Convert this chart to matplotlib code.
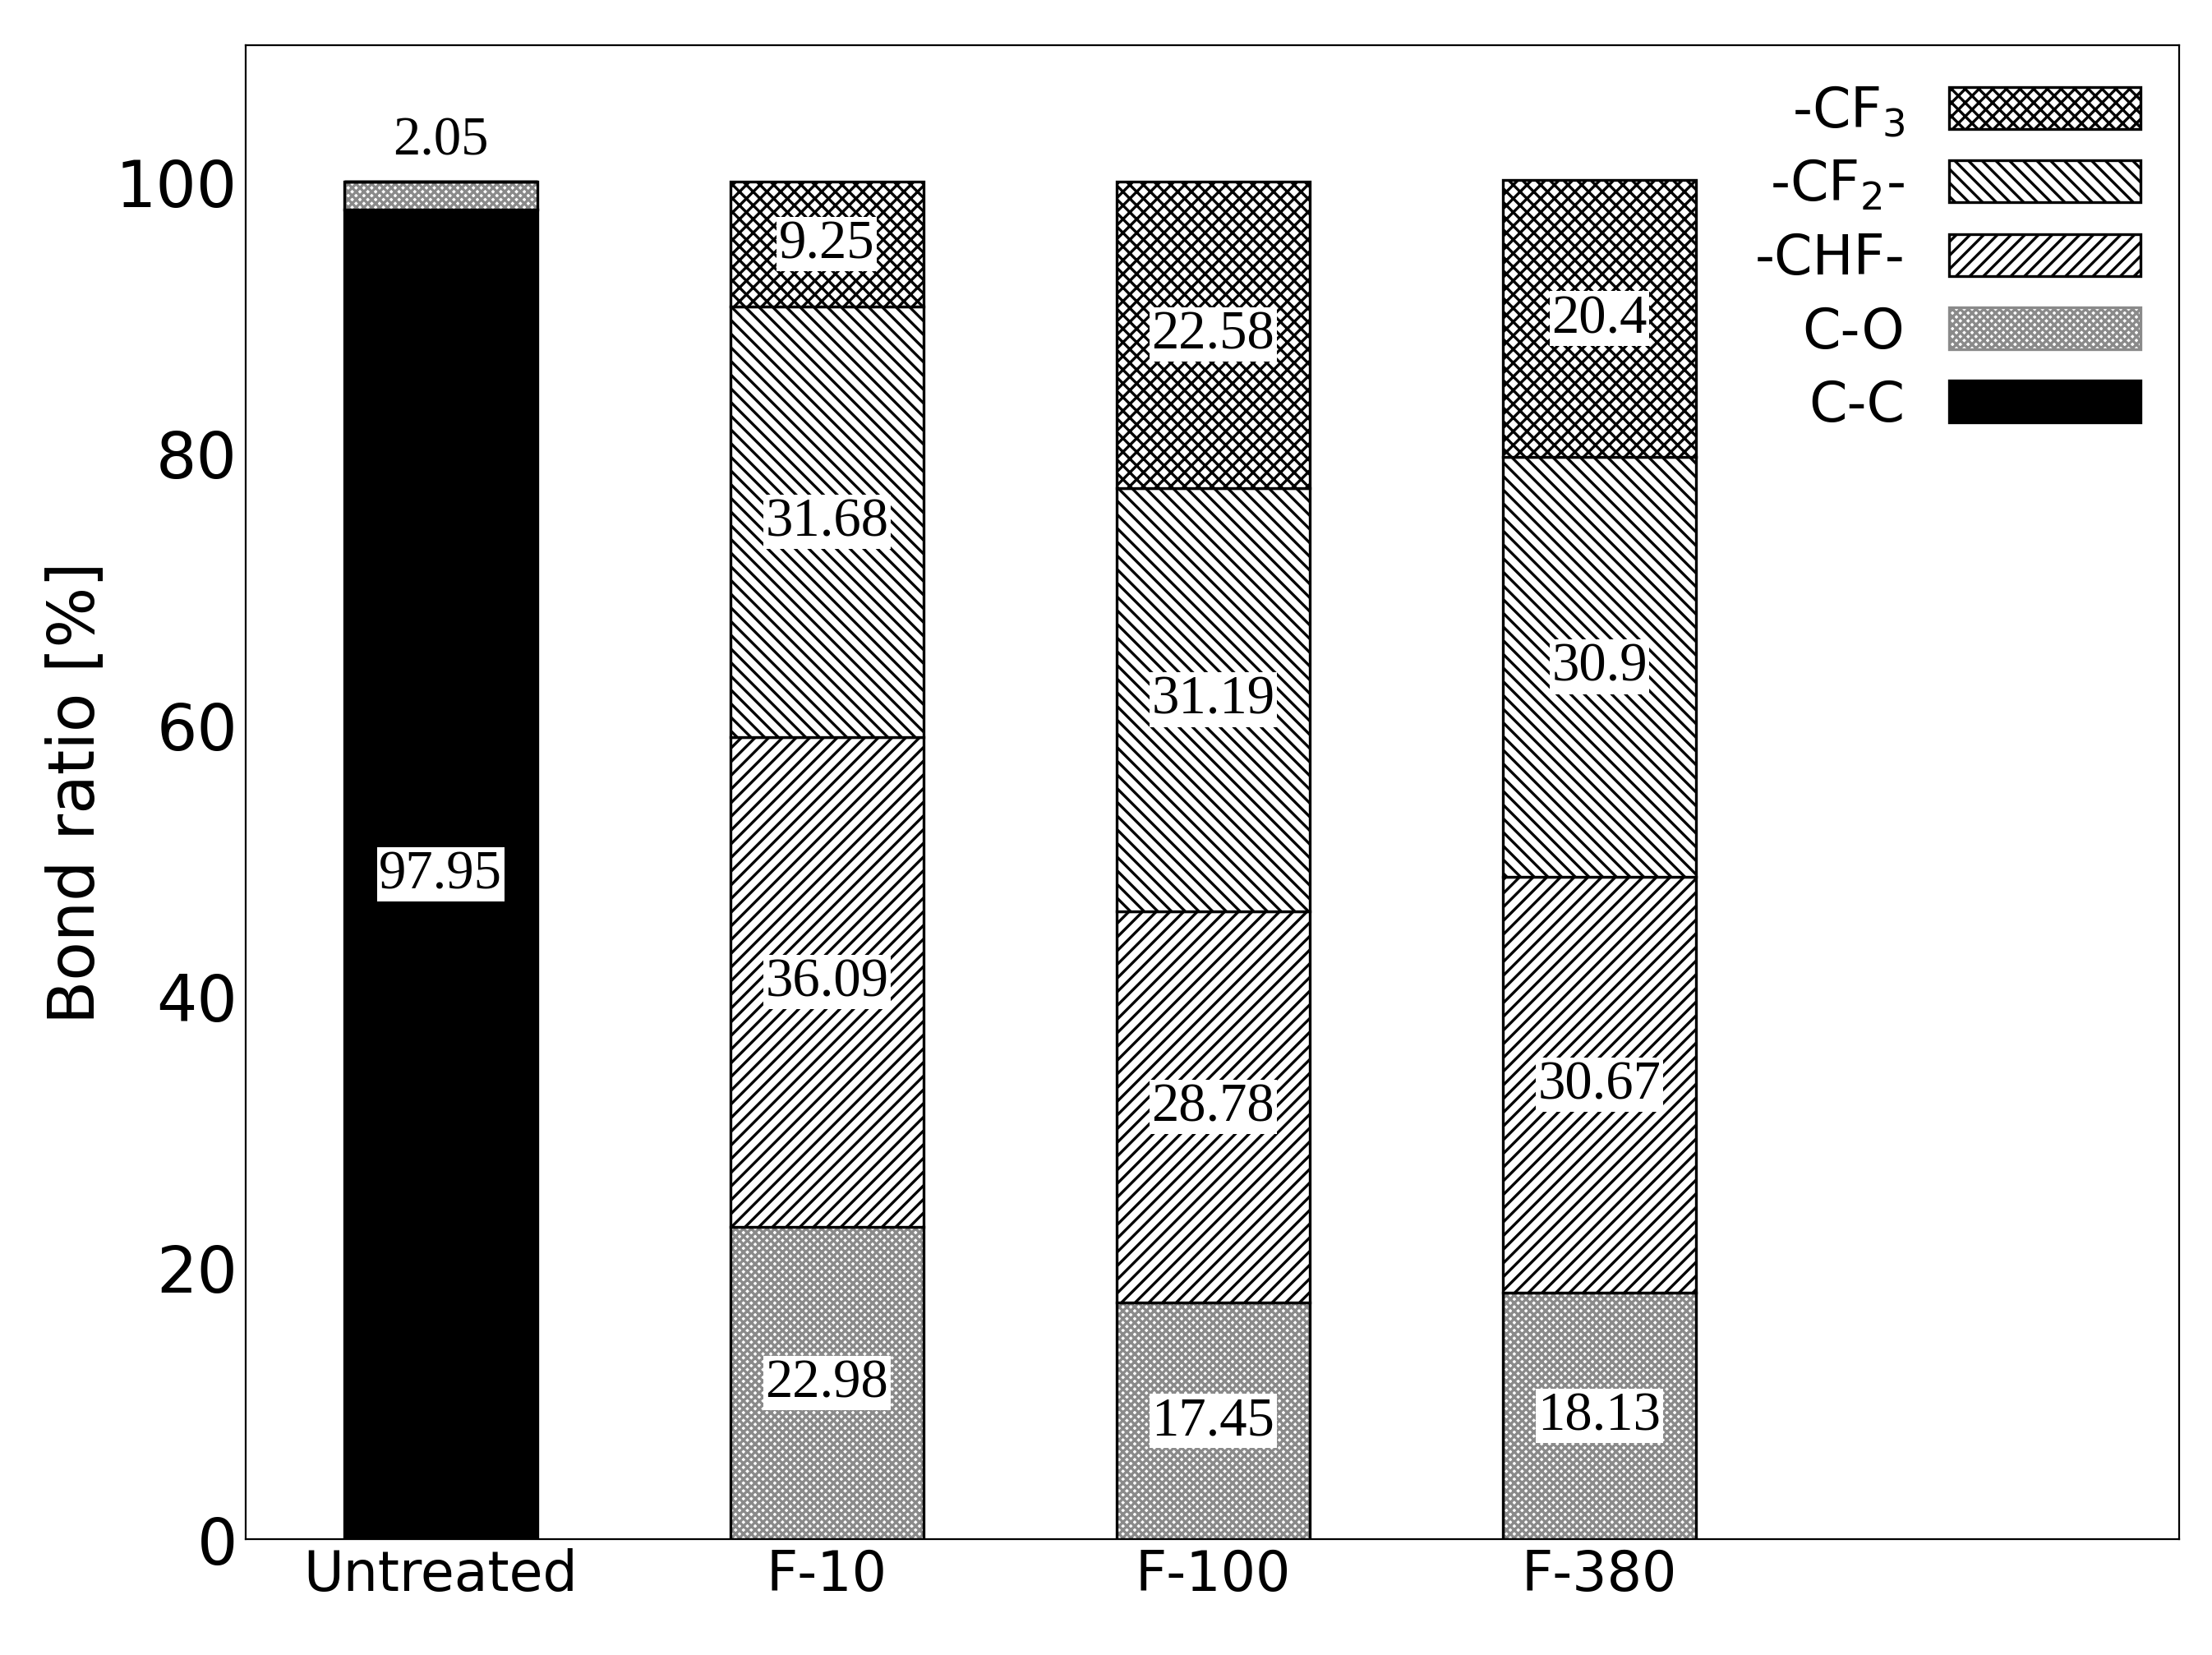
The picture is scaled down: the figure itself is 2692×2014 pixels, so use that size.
import matplotlib
matplotlib.use("Agg")
import matplotlib.pyplot as plt
import numpy as np

categories = ["Untreated", "F-10", "F-100", "F-380"]
cc = [97.95, 0, 0, 0]
co = [2.05, 22.98, 17.45, 18.13]
chf = [0, 36.09, 28.78, 30.67]
cf2 = [0, 31.68, 31.19, 30.9]
cf3 = [0, 9.25, 22.58, 20.4]

plt.rcParams['hatch.linewidth'] = 1.2
fig = plt.figure(figsize=(13.46, 10.075), dpi=200)
ax = fig.add_axes([0.111, 0.07, 0.874, 0.902])
x = np.arange(len(categories))
w = 0.5
series = [("C-C", cc, None, "black", "black"), ("C-O", co, "xxxxxxx", "white", "#8a8a8a"),
          ("-CHF-", chf, "////", "white", "black"), ("-CF$_2$-", cf2, "\\\\\\\\", "white", "black"),
          ("-CF$_3$", cf3, "xxxx", "white", "black")]
bottom = np.zeros(4)
handles = []
for name, vals, hatch, fc, hc in series:
    vals = np.array(vals)
    ax.bar(x, vals, w, bottom=bottom, color=fc, edgecolor=hc, hatch=hatch, lw=0)
    ax.bar(x, vals, w, bottom=bottom, fill=False, edgecolor="black", lw=1.2)
    h = plt.Rectangle((0, 0), 1, 1, facecolor=fc, edgecolor=hc, hatch=hatch, lw=0)
    handles.append(h)
    for i, v in enumerate(vals):
        if v <= 0:
            continue
        if categories[i] == "Untreated" and name == "C-O":
            ax.text(x[i], bottom[i] + v + 3, f"{v:g}", ha="center", va="center",
                    fontsize=24, family="Liberation Serif")
        else:
            ax.text(x[i], bottom[i] + v / 2, f"{v:g}", ha="center", va="center",
                    fontsize=24, family="Liberation Serif",
                    bbox=dict(facecolor="white", edgecolor="none", pad=1))
    bottom += vals

ax.set_xlim(-0.505, 4.5)
ax.set_ylim(0, 110)
ax.set_yticks([0, 20, 40, 60, 80, 100])
ax.set_xticks(x)
ax.set_xticklabels(categories)
ax.tick_params(axis="y", labelsize=28, direction="in", length=0)
ax.tick_params(axis="x", labelsize=24, length=0)
ax.set_ylabel("Bond ratio [%]", fontsize=28)
leg = ax.legend(handles[::-1], [s[0] for s in series][::-1], loc="upper right", frameon=False,
          markerfirst=False, fontsize=24, handlelength=3.5, handleheight=0.8,
          labelspacing=0.35, borderaxespad=0.3)
for p in leg.get_patches():
    p.set_linewidth(1.2)
    if p.get_facecolor()[0] > 0.5 or True:
        pass
fig.savefig("out.png", dpi=200)
